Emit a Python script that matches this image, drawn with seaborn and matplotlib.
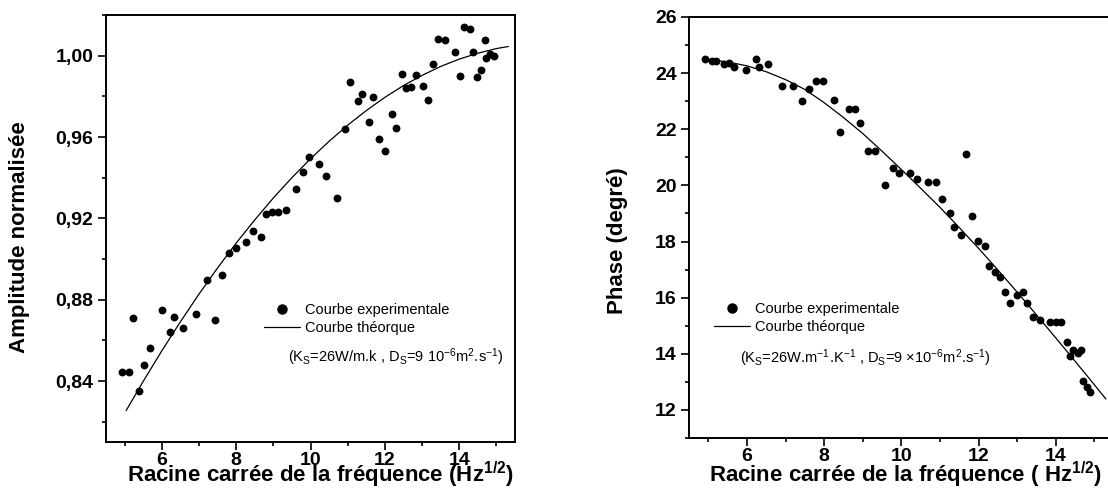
import matplotlib
matplotlib.use("Agg")
import matplotlib.pyplot as plt
import seaborn as sns
import pandas as pd
from matplotlib.ticker import MultipleLocator
from matplotlib.lines import Line2D

# ---------------- data ----------------
amp_x = [4.93, 5.11, 5.22, 5.40, 5.53, 5.67, 6.00, 6.23, 6.33, 6.57, 6.93, 7.22, 7.44,
         7.62, 7.82, 7.99, 8.26, 8.45, 8.66, 8.81, 8.97, 9.13, 9.35, 9.60, 9.80, 9.96,
         10.22, 10.42, 10.72, 10.93, 11.07, 11.27, 11.38, 11.56, 11.69, 11.85, 12.01,
         12.20, 12.29, 12.45, 12.58, 12.71, 12.83, 13.03, 13.17, 13.29, 13.44, 13.61,
         13.88, 14.03, 14.14, 14.28, 14.37, 14.47, 14.59, 14.68, 14.72, 14.82, 14.93]
amp_y = [0.8444, 0.8443, 0.871, 0.835, 0.848, 0.856, 0.875, 0.864, 0.8716, 0.866, 0.873,
         0.8896, 0.870, 0.892, 0.903, 0.9056, 0.9086, 0.914, 0.911, 0.922, 0.9233, 0.9233,
         0.924, 0.9344, 0.9426, 0.950, 0.9466, 0.9408, 0.930, 0.964, 0.987, 0.9776, 0.981,
         0.9676, 0.9796, 0.9588, 0.953, 0.9714, 0.9642, 0.9912, 0.9843, 0.9845, 0.9904,
         0.9849, 0.978, 0.996, 1.008, 1.0076, 1.0018, 0.990, 1.014, 1.013, 1.002, 0.9894,
         0.993, 1.0076, 0.999, 1.001, 1.000]
amp_fit_x = [5.04, 5.5, 6.0, 6.5, 7.0, 7.5, 8.0, 8.5, 9.0, 9.5, 10.0, 10.5, 11.0, 11.5,
             12.0, 12.5, 13.0, 13.5, 14.0, 14.5, 15.0, 15.32]
amp_fit_y = [0.8254, 0.8398, 0.8548, 0.8691, 0.8827, 0.8956, 0.9078, 0.9192, 0.9300,
             0.9400, 0.9493, 0.9579, 0.9658, 0.9730, 0.9795, 0.9853, 0.9903, 0.9947,
             0.9983, 1.0012, 1.0035, 1.0045]

phase_x = [4.91, 5.10, 5.21, 5.40, 5.53, 5.66, 5.98, 6.23, 6.31, 6.55, 6.92, 7.19, 7.43,
           7.61, 7.80, 7.97, 8.25, 8.42, 8.64, 8.80, 8.94, 9.13, 9.33, 9.58, 9.79, 9.94,
           10.22, 10.40, 10.70, 10.91, 11.05, 11.26, 11.36, 11.54, 11.67, 11.84, 11.99,
           12.18, 12.26, 12.42, 12.56, 12.69, 12.81, 12.99, 13.14, 13.26, 13.42, 13.60,
           13.86, 14.00, 14.13, 14.28, 14.36, 14.46, 14.57, 14.66, 14.70, 14.82, 14.90]
phase_y = [24.51, 24.42, 24.42, 24.34, 24.35, 24.22, 24.12, 24.51, 24.23, 24.34, 23.53,
           23.53, 23.02, 23.42, 23.72, 23.72, 23.03, 21.91, 22.72, 22.72, 22.22, 21.22,
           21.22, 20.03, 20.62, 20.43, 20.43, 20.22, 20.12, 20.12, 19.52, 19.03, 18.52,
           18.22, 21.13, 18.91, 18.03, 17.84, 17.13, 16.93, 16.73, 16.21, 15.82, 16.11,
           16.19, 15.82, 15.31, 15.22, 15.12, 15.12, 15.12, 14.42, 13.92, 14.14, 14.02,
           14.14, 13.03, 12.83, 12.63]
phase_fit_x = [4.9, 5.5, 6.0, 6.5, 7.0, 7.5, 8.0, 8.5, 9.0, 9.5, 10.0, 10.5, 11.0, 11.5,
               12.0, 12.5, 13.0, 13.5, 14.0, 14.5, 15.0, 15.3]
phase_fit_y = [24.50, 24.40, 24.26, 24.05, 23.77, 23.42, 22.95, 22.42, 21.85, 21.22,
               20.57, 19.90, 19.22, 18.50, 17.76, 16.99, 16.20, 15.39, 14.57, 13.74,
               12.90, 12.39]

x_ticks = [6, 8, 10, 12, 14]
x_ticklabels = ["6", "8", "10", "12", "14"]
amp_yticks = [0.84, 0.88, 0.92, 0.96, 1.00]
amp_yticklabels = ["0,84", "0,88", "0,92", "0,96", "1,00"]
phase_yticks = [12, 14, 16, 18, 20, 22, 24, 26]
phase_yticklabels = ["12", "14", "16", "18", "20", "22", "24", "26"]

# ---------------- style ----------------
sns.set_theme(style="ticks")
plt.rcParams['font.family'] = ['Liberation Sans', 'DejaVu Sans']
plt.rcParams['mathtext.fontset'] = 'custom'
plt.rcParams['mathtext.rm'] = 'Liberation Sans'
plt.rcParams['mathtext.it'] = 'Liberation Sans:italic'
plt.rcParams['mathtext.bf'] = 'Liberation Sans:bold'
plt.rcParams['mathtext.default'] = 'rm'
plt.rcParams['axes.unicode_minus'] = True
for k in ('text.color', 'axes.labelcolor', 'xtick.color', 'ytick.color', 'axes.edgecolor'):
    plt.rcParams[k] = 'black'

TICK_FS = 14
LABEL_FS = 16
LEG_FS = 10.5

fig = plt.figure(figsize=(11.08, 4.96), dpi=100)
W, H = 1108.0, 496.0

def axes_px(l, t, r, b):
    return fig.add_axes([l / W, 1 - b / H, (r - l) / W, (b - t) / H])

ax1 = axes_px(106, 15, 515, 442)
ax2 = axes_px(689, 17, 1113.6, 438)

amp_df = pd.DataFrame({"x": amp_x, "y": amp_y})
amp_fit = pd.DataFrame({"x": amp_fit_x, "y": amp_fit_y})
ph_df = pd.DataFrame({"x": phase_x, "y": phase_y})
ph_fit = pd.DataFrame({"x": phase_fit_x, "y": phase_fit_y})

for ax, df, fit in [(ax1, amp_df, amp_fit), (ax2, ph_df, ph_fit)]:
    sns.lineplot(data=fit, x="x", y="y", ax=ax, color="black", linewidth=0.9,
                 sort=False, estimator=None, zorder=2)
    sns.scatterplot(data=df, x="x", y="y", ax=ax, color="black", s=32,
                    linewidth=0, zorder=3)

# axes limits & ticks
ax1.set_xlim(4.5, 15.5)
ax1.set_ylim(0.81, 1.02)
ax2.set_xlim(4.5, 15.5)
ax2.set_ylim(11, 26)

ax1.set_xticks(x_ticks, x_ticklabels, fontweight="bold", fontsize=TICK_FS)
ax2.set_xticks(x_ticks, x_ticklabels, fontweight="bold", fontsize=TICK_FS)
ax1.set_yticks(amp_yticks, amp_yticklabels, fontweight="bold", fontsize=TICK_FS)
ax2.set_yticks(phase_yticks, phase_yticklabels, fontweight="bold", fontsize=TICK_FS)
ax1.xaxis.set_minor_locator(MultipleLocator(1))
ax2.xaxis.set_minor_locator(MultipleLocator(1))
ax1.yaxis.set_minor_locator(MultipleLocator(0.02))
ax2.yaxis.set_minor_locator(MultipleLocator(1))

for ax in (ax1, ax2):
    ax.tick_params(which="major", direction="out", length=5.5, width=1.2, pad=3.5,
                   colors="black", bottom=True, left=True, top=False, right=False)
    ax.tick_params(which="minor", direction="out", length=3, width=1.2,
                   bottom=True, left=True, top=False, right=False)
    ax.tick_params(axis="x", which="major", pad=2.0)
    for s in ax.spines.values():
        s.set_color("black")
        s.set_linewidth(1.4)
        s.set_visible(True)
    ax.grid(False)
    ax.set_facecolor("white")

# axis labels
ax1.set_xlabel(r"Racine carrée de la fréquence (Hz$^{\mathbf{1/2}}$)",
               fontsize=LABEL_FS, fontweight="bold")
ax2.set_xlabel(r"Racine carrée de la fréquence ( Hz$^{\mathbf{1/2}}$)",
               fontsize=LABEL_FS, fontweight="bold")
ax1.set_ylabel("Amplitude normalisée", fontsize=LABEL_FS, fontweight="bold")
ax2.set_ylabel("Phase (degré)", fontsize=LABEL_FS, fontweight="bold")

ax1.xaxis.set_label_coords((320 - 106) / 409, (442 - 482) / 427)
ax2.xaxis.set_label_coords((905.5 - 689) / 424.6, (438 - 482) / 421)
for ax in (ax1, ax2):
    ax.xaxis.label.set_verticalalignment("baseline")
    ax.yaxis.label.set_verticalalignment("center")
    ax.yaxis.label.set_horizontalalignment("center")
ax1.yaxis.set_label_coords((20 - 106) / 409, (442 - 237.5) / 427)
ax2.yaxis.set_label_coords((618 - 689) / 424.6, (438 - 241) / 421)

# legends
handles = [Line2D([], [], marker="o", color="black", linestyle="None", markersize=6.5),
           Line2D([], [], color="black", linewidth=0.9)]
labels = ["Courbe experimentale", "Courbe théorque"]
leg_kw = dict(frameon=False, fontsize=LEG_FS, handlelength=2.5, handletextpad=0.3,
              labelspacing=0.3, borderpad=0, borderaxespad=0, loc="upper left")
ax1.legend(handles, labels, bbox_to_anchor=((264 - 106) / 409, (442 - 303) / 427), **leg_kw)
ax2.legend(handles, labels, bbox_to_anchor=((714 - 689) / 424.6, (438 - 302) / 421), **leg_kw)

ax1.text((288 - 106) / 409, (442 - 357) / 427,
         r"(K$_S$=26W/m.k , D$_S$=9 10$^{-6}$m$^2$.s$^{-1}$)",
         transform=ax1.transAxes, fontsize=LEG_FS, va="center", ha="left")
ax2.text((740 - 689) / 424.6, (438 - 358) / 421,
         r"(K$_S$=26W.m$^{-1}$.K$^{-1}$ , D$_S$=9 ×10$^{-6}$m$^2$.s$^{-1}$)",
         transform=ax2.transAxes, fontsize=LEG_FS, va="center", ha="left")

fig.savefig("out.png", dpi=100, facecolor="white")
